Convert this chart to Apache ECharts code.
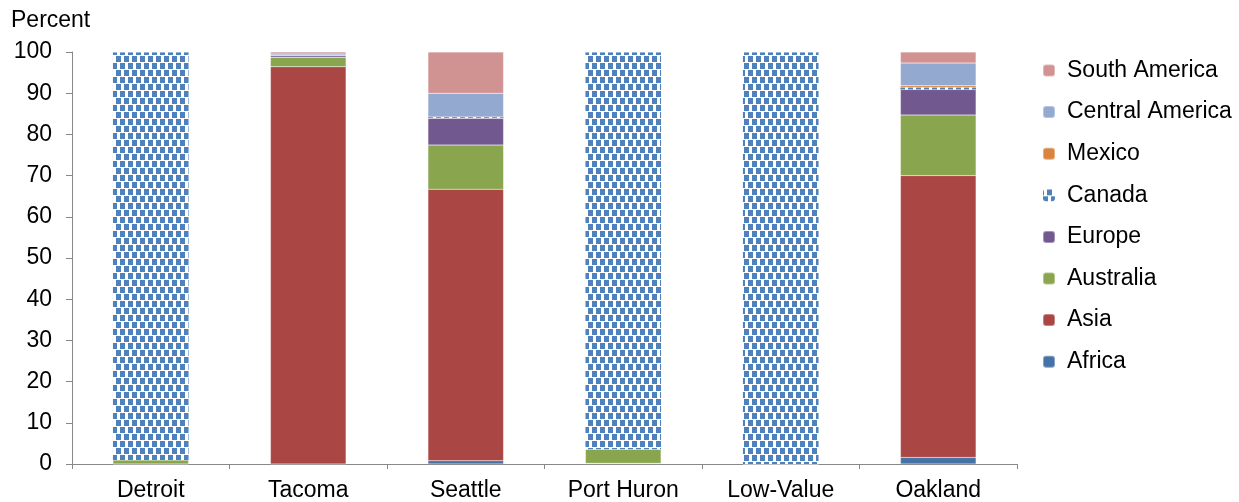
<!DOCTYPE html>
<html><head><meta charset="utf-8">
<script src="https://cdn.jsdelivr.net/npm/echarts@6/dist/echarts.min.js"></script>
<style>html,body{margin:0;padding:0;background:#fff}#c{width:1239px;height:502px}</style>
</head><body><div id="c"></div>
<script>
const categories = ['Detroit','Tacoma','Seattle','Port Huron','Low-Value','Oakland'];
const africa    = [0,   0,    0.8, 0.2, 0,   1.6];
const asia      = [0,   96.4, 65.9, 0,  0,   68.4];
const australia = [1.0, 2.3,  10.7, 3.4, 0,  14.7];
const europe    = [0,   0.4,  6.5, 0,   0,   6.2];
const canada    = [99.0, 0,   0.3, 96.4, 100, 0.5];
const mexico    = [0,   0,    0,   0,   0,   0.4];
const centralAmerica = [0, 0.4, 5.8, 0, 0,   5.5];
const southAmerica   = [0, 0.5, 10.0, 0, 0,  2.7];
const yTicks = [0,10,20,30,40,50,60,70,80,90,100];

const font = '"Liberation Sans", Arial, sans-serif';
const FS = 23;
const chart = echarts.init(document.getElementById('c'));
const mk = (name, data, color, extra) => Object.assign({
  name, type: 'bar', stack: 'all', data, barWidth: '48%',
  itemStyle: { color, borderColor: 'rgba(255,255,255,0.35)', borderWidth: 0.5 },
  emphasis: { disabled: true }
}, extra || {});
const canadaDecal = {
  symbol: 'rect', color: '#4f81bd', symbolSize: 1,
  dashArrayX: [[5, 3], [1, 3, 4, 0]], dashArrayY: [6, 1], rotation: 0
};
chart.setOption({
  animation: false,
  aria: { enabled: false },
  textStyle: { fontFamily: font },
  grid: { left: 72, right: 222, top: 52, bottom: 38 },
  graphic: [{ type: 'text', left: 11, top: 9, style: { text: 'Percent', font: FS + 'px ' + font, fill: '#000' } }],
  legend: {
    orient: 'vertical', left: 1042, top: 59, padding: 0, itemGap: 18.6, itemWidth: 12, itemHeight: 12,
    textStyle: { fontSize: FS, color: '#000', fontFamily: font, padding: [0, 0, 0, 7] },
    data: ['South America','Central America','Mexico','Canada','Europe','Australia','Asia','Africa']
  },
  xAxis: {
    type: 'category', data: categories,
    axisLine: { lineStyle: { color: '#888', width: 1 } },
    axisTick: { show: true, alignWithLabel: false, length: 5, lineStyle: { color: '#888' } },
    axisLabel: { fontSize: FS, color: '#000', margin: 15 }
  },
  yAxis: {
    type: 'value', min: 0, max: 100, interval: 10,
    axisLine: { show: true, lineStyle: { color: '#888' } },
    axisTick: { show: true, length: 6, lineStyle: { color: '#888' } },
    splitLine: { show: false },
    axisLabel: { fontSize: FS, color: '#000', margin: 20,
      formatter: v => yTicks.includes(v) ? String(v) : '' }
  },
  series: [
    mk('Africa', africa, '#4572a7'),
    mk('Asia', asia, '#aa4643'),
    mk('Australia', australia, '#89a54e'),
    mk('Europe', europe, '#71588f'),
    mk('Canada', canada, '#ffffff', { itemStyle: { color: '#ffffff', decal: canadaDecal } }),
    mk('Mexico', mexico, '#db843d'),
    mk('Central America', centralAmerica, '#93a9cf'),
    mk('South America', southAmerica, '#d19392')
  ]
});
</script></body></html>
